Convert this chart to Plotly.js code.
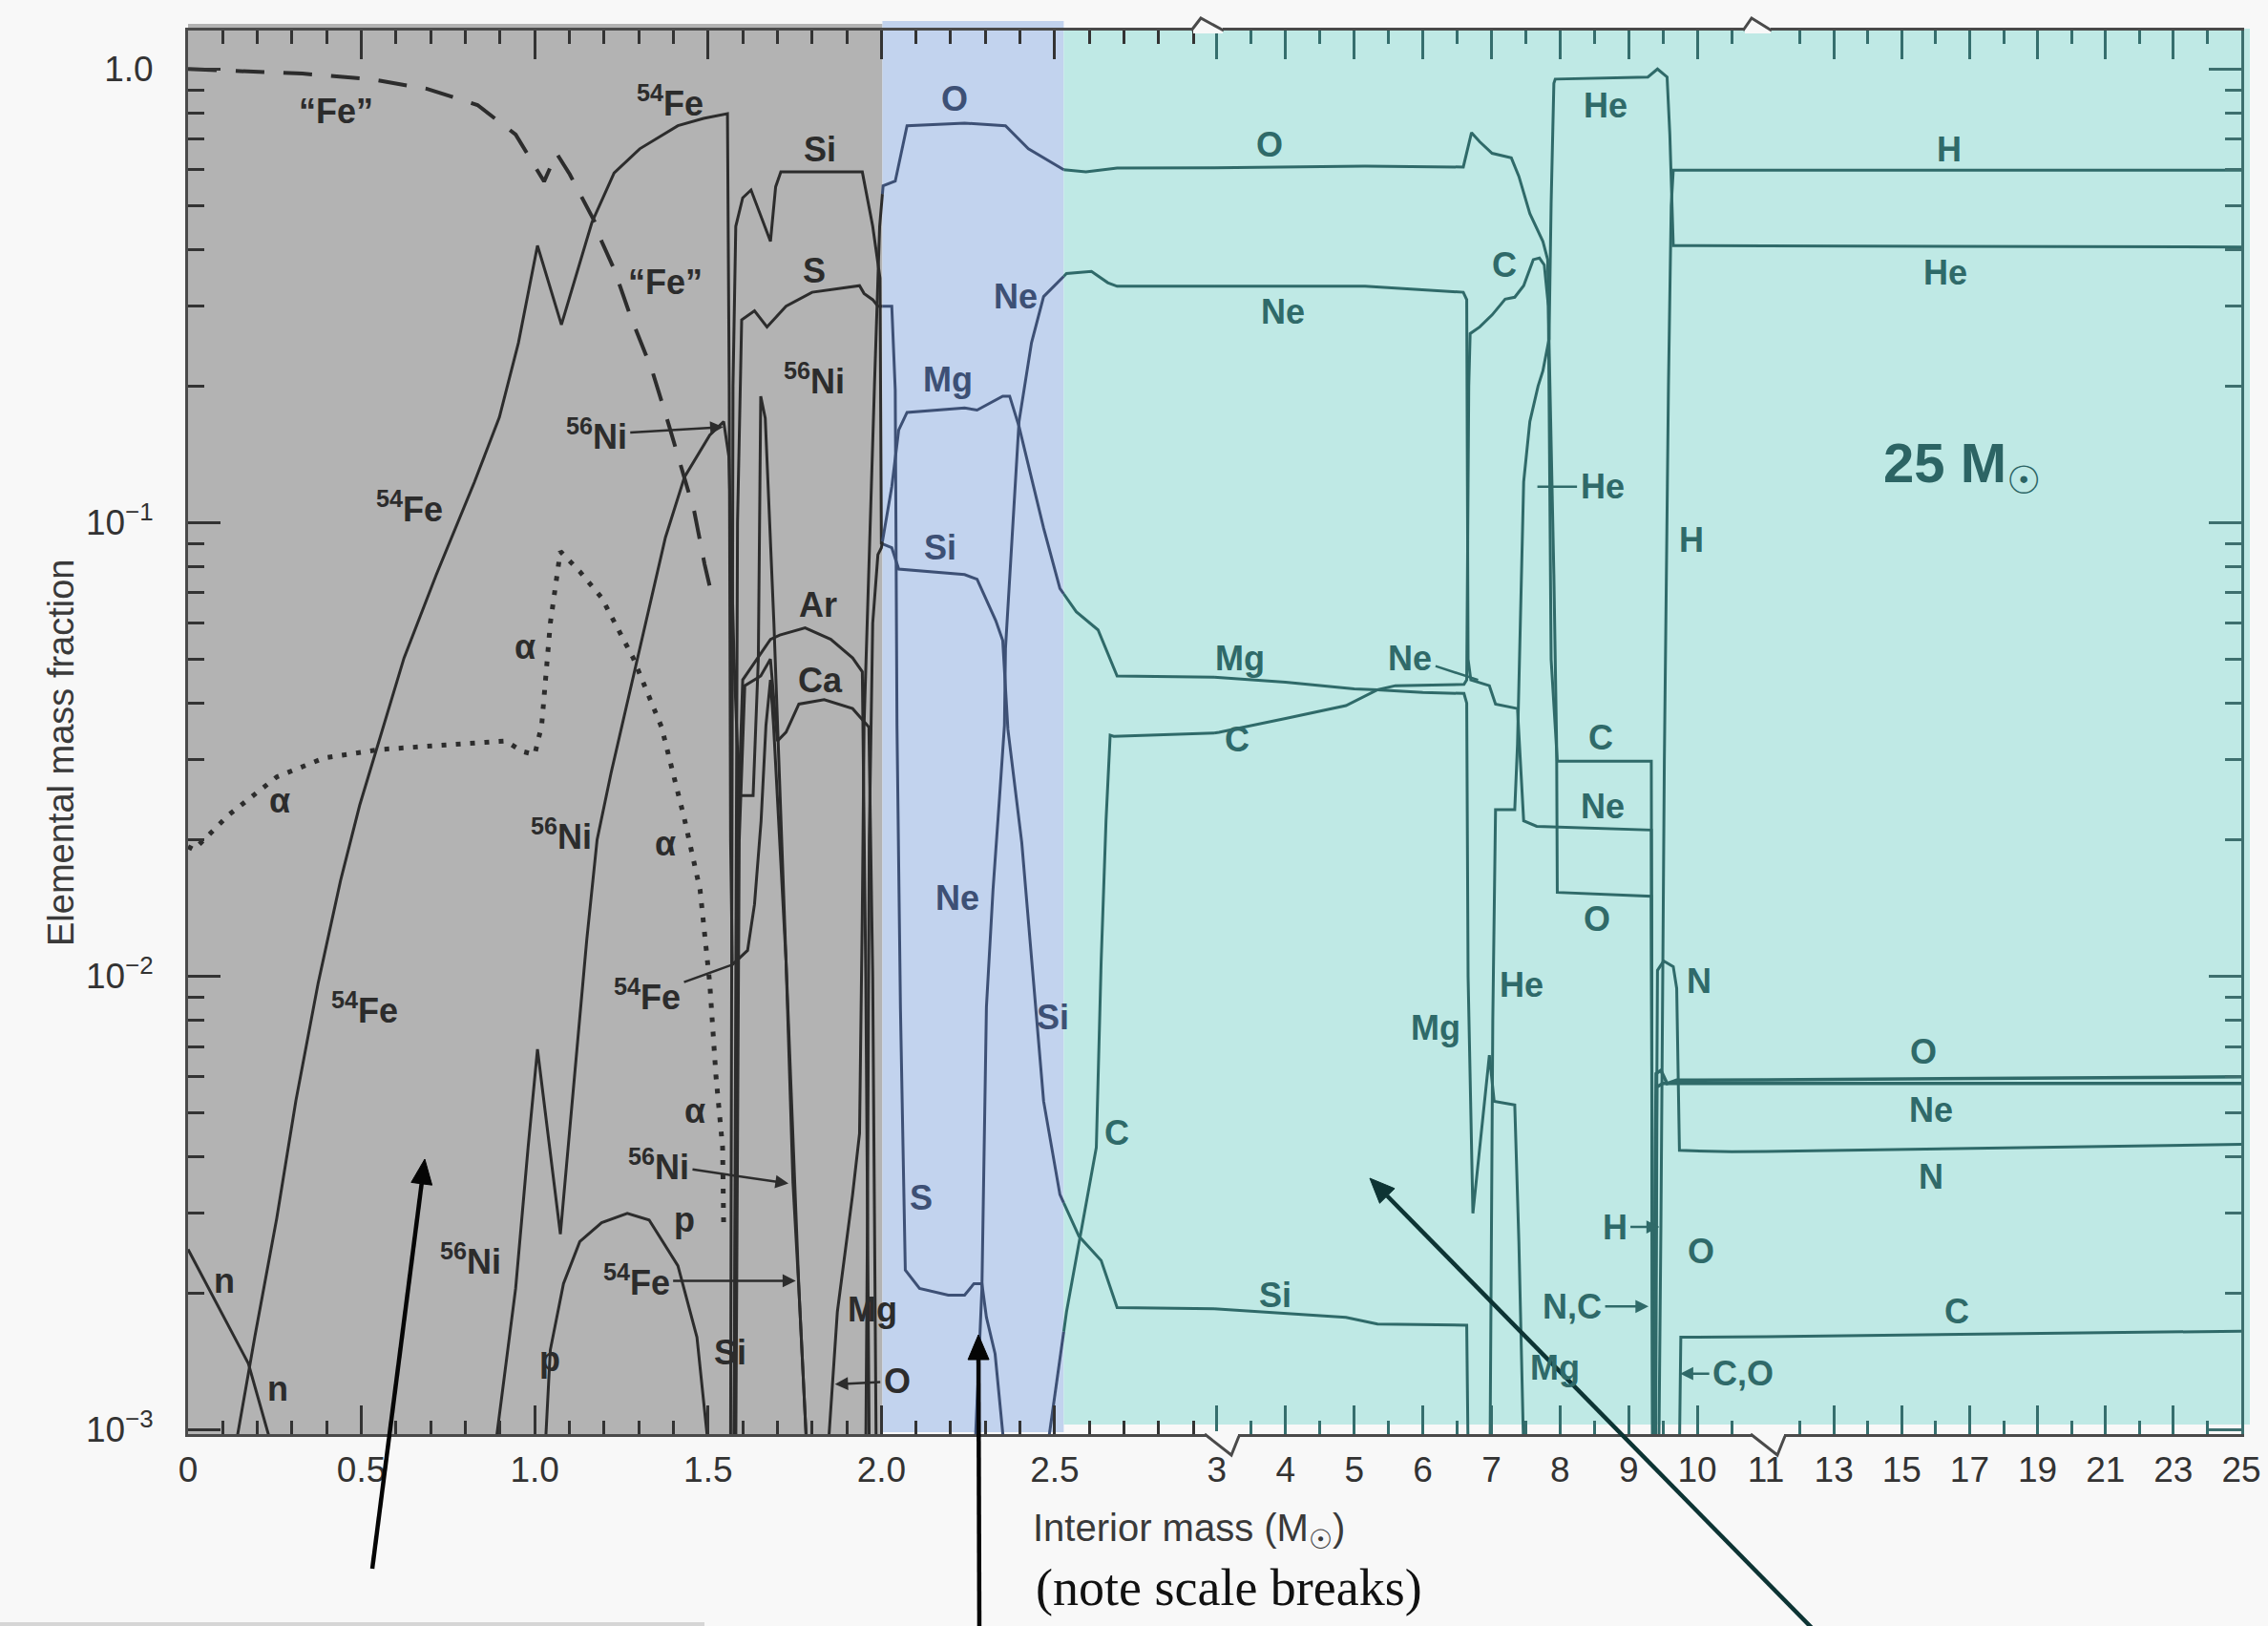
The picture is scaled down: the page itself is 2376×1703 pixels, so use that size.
<!DOCTYPE html>
<html>
<head>
<meta charset="utf-8">
<script src="https://cdn.plot.ly/plotly-3.0.1.min.js"></script>
<style>
  html, body { margin: 0; padding: 0; background: #f8f8f8; }
  #chart { width: 2376px; height: 1703px; }
</style>
</head>
<body>
<div id="chart"></div>
<script>
// Presupernova composition of a 25 Msun star: interior mass (Msun) vs. elemental mass fraction.

// ---- "Fe" (iron group total), dashed ----
const feGroupM = [0, 0.33, 0.53, 0.69, 0.835, 0.945, 1.027, 1.063, 1.101, 1.138, 1.174, 1.193, 1.229, 1.275, 1.339, 1.385, 1.42, 1.46, 1.49, 1.515];
const feGroupY = [1.0, 0.977, 0.949, 0.904, 0.833, 0.717, 0.565, 0.652, 0.586, 0.515, 0.459, 0.417, 0.362, 0.287, 0.216, 0.166, 0.135, 0.106, 0.081, 0.067];

// ---- 54Fe ----
const fe54M = [0.135, 0.193, 0.256, 0.311, 0.375, 0.44, 0.495, 0.551, 0.623, 0.716, 0.826, 0.898, 0.953, 1.008, 1.077, 1.165, 1.229, 1.303, 1.413, 1.487, 1.556, 1.561, 1.565, 1.57, 1.614, 1.634, 1.653, 1.667, 1.68, 1.689, 1.725, 1.762, 1.785];
const fe54Y = [0.0009, 0.00161, 0.00293, 0.00531, 0.00963, 0.01626, 0.0238, 0.0332, 0.0503, 0.0767, 0.1228, 0.1706, 0.249, 0.408, 0.273, 0.459, 0.59, 0.667, 0.75, 0.778, 0.797, 0.2, 0.02, 0.0106, 0.0114, 0.0144, 0.022, 0.0357, 0.045, 0.0357, 0.0108, 0.00205, 0.0009];

// ---- 56Ni ----
const ni56M = [0.885, 0.945, 0.981, 1.008, 1.074, 1.12, 1.15, 1.18, 1.22, 1.26, 1.322, 1.377, 1.432, 1.505, 1.545, 1.56, 1.575, 1.59, 1.63, 1.645, 1.652, 1.665, 1.69, 1.725, 1.745, 1.762, 1.785];
const ni56Y = [0.0009, 0.00205, 0.0042, 0.0069, 0.0027, 0.0067, 0.012, 0.02, 0.028, 0.038, 0.0608, 0.0927, 0.126, 0.156, 0.167, 0.14, 0.05, 0.025, 0.025, 0.05, 0.19, 0.17, 0.06, 0.0108, 0.0035, 0.00205, 0.0009];

// ---- alpha particles, dotted ----
const alphaM = [0, 0.017, 0.118, 0.256, 0.394, 0.551, 0.761, 0.917, 0.964, 1.0, 1.02, 1.045, 1.074, 1.13, 1.193, 1.284, 1.366, 1.432, 1.477, 1.505, 1.523, 1.542, 1.545];
const alphaY = [0.0193, 0.019, 0.0227, 0.0275, 0.0303, 0.0316, 0.0324, 0.033, 0.0313, 0.0308, 0.0357, 0.06, 0.0864, 0.078, 0.0683, 0.0503, 0.0354, 0.0222, 0.0155, 0.00963, 0.006, 0.00419, 0.00282];

// ---- free neutrons and protons ----
const neutronM = [0, 0.174, 0.245];
const neutronY = [0.0025, 0.0014, 0.0009];
const protonM = [1.03, 1.045, 1.083, 1.13, 1.193, 1.267, 1.33, 1.413, 1.468, 1.502];
const protonY = [0.0009, 0.0015, 0.0021, 0.0026, 0.00286, 0.0030, 0.0029, 0.0023, 0.0016, 0.0009];

// ---- Si, S, Ar, Ca ----
const siM = [1.565, 1.568, 1.572, 1.58, 1.6, 1.624, 1.65, 1.68, 1.695, 1.71, 1.945, 1.975, 1.996, 2.0, 2.03, 2.05, 2.24, 2.276, 2.33, 2.35, 2.365, 2.405, 2.468, 2.515, 2.57, 2.634, 2.68, 4.88, 5.34, 6.64, 6.66];
const siY = [0.0009, 0.01, 0.2, 0.45, 0.52, 0.541, 0.48, 0.417, 0.55, 0.593, 0.593, 0.45, 0.346, 0.09, 0.088, 0.079, 0.0768, 0.075, 0.0608, 0.055, 0.035, 0.0197, 0.0053, 0.0033, 0.00267, 0.00236, 0.00186, 0.00177, 0.00171, 0.0017, 0.0009];
const sM = [1.575, 1.585, 1.597, 1.634, 1.67, 1.725, 1.8, 1.937, 1.95, 1.975, 1.99, 2.0, 2.03, 2.04, 2.045, 2.055, 2.069, 2.11, 2.193, 2.24, 2.267, 2.29, 2.303, 2.328, 2.355];
const sY = [0.0009, 0.1, 0.28, 0.293, 0.27, 0.3, 0.322, 0.333, 0.32, 0.31, 0.3, 0.3, 0.3, 0.196, 0.0357, 0.0085, 0.00225, 0.00205, 0.00198, 0.00198, 0.0021, 0.0021, 0.00177, 0.00147, 0.0009];
const arM = [1.575, 1.585, 1.6, 1.64, 1.68, 1.707, 1.78, 1.854, 1.917, 1.945, 1.955, 1.965];
const arY = [0.0009, 0.02, 0.045, 0.05, 0.0553, 0.0565, 0.0586, 0.0553, 0.0503, 0.0469, 0.01, 0.0009];
const caM = [1.58, 1.59, 1.606, 1.652, 1.68, 1.70, 1.725, 1.762, 1.835, 1.917, 1.964, 1.975, 1.985];
const caY = [0.0009, 0.02, 0.0437, 0.0459, 0.05, 0.033, 0.0345, 0.0398, 0.0407, 0.0389, 0.0354, 0.01, 0.0009];

// ---- O, Mg, Ne, C ----
const oM = [1.846, 1.873, 1.917, 1.937, 1.945, 1.95, 1.98, 1.995, 2.005, 2.04, 2.074, 2.24, 2.358, 2.424, 2.523, 2.59, 2.68, 5.157, 6.59, 6.71, 6.83, 7.01, 7.29, 7.40, 7.56, 7.75, 7.82, 7.84, 7.91, 7.95, 7.96, 9.33, 9.35];
const oY = [0.0009, 0.00182, 0.0033, 0.0045, 0.0138, 0.0357, 0.2, 0.45, 0.553, 0.566, 0.75, 0.76, 0.75, 0.667, 0.60, 0.593, 0.605, 0.611, 0.608, 0.724, 0.691, 0.652, 0.637, 0.58, 0.48, 0.417, 0.38, 0.249, 0.0768, 0.0324, 0.0153, 0.015, 0.0009];
const oEnvM = [9.36, 9.38, 9.40, 9.47, 9.56, 9.7, 25];
const oEnvY = [0.0009, 0.003, 0.0061, 0.0062, 0.0058, 0.0059, 0.0060];

const mgM = [1.955, 1.96, 1.965, 1.975, 1.99, 2.0, 2.03, 2.05, 2.074, 2.24, 2.276, 2.35, 2.37, 2.397, 2.468, 2.515, 2.562, 2.625, 2.68, 4.0, 5.0, 5.34, 6.0, 6.6, 6.64, 6.66, 6.73, 6.97, 7.04, 7.34, 7.40, 7.47];
const mgY = [0.0009, 0.003, 0.02, 0.06, 0.085, 0.088, 0.12, 0.16, 0.175, 0.179, 0.177, 0.19, 0.19, 0.163, 0.0972, 0.0716, 0.0636, 0.058, 0.0459, 0.0445, 0.043, 0.0428, 0.0422, 0.042, 0.04, 0.01, 0.003, 0.0067, 0.0053, 0.0052, 0.0026, 0.0009];

const neM = [2.27, 2.29, 2.303, 2.322, 2.341, 2.355, 2.358, 2.397, 2.433, 2.468, 2.534, 2.606, 2.653, 2.68, 5.157, 6.59, 6.64, 6.66, 6.7, 6.97, 7.06, 7.38, 7.47, 7.66, 9.33, 9.35];
const neY = [0.0009, 0.00205, 0.00855, 0.0155, 0.0249, 0.0357, 0.0528, 0.167, 0.249, 0.315, 0.354, 0.358, 0.338, 0.332, 0.332, 0.322, 0.31, 0.05, 0.045, 0.0437, 0.0398, 0.0389, 0.022, 0.0214, 0.021, 0.0009];
const neEnvM = [9.39, 9.41, 9.5, 25];
const neEnvY = [0.0009, 0.0057, 0.0058, 0.0058];

const cM = [2.478, 2.534, 2.62, 2.634, 2.648, 2.66, 2.67, 3.03, 4.0, 4.88, 5.34, 5.6, 6.6, 6.64, 6.67, 6.69, 6.83, 7.01, 7.2, 7.34, 7.47, 7.61, 7.70, 7.77, 7.83, 7.87, 7.96, 9.33, 9.35];
const cY = [0.0009, 0.00182, 0.00419, 0.0108, 0.022, 0.034, 0.0338, 0.0345, 0.037, 0.0395, 0.0428, 0.0437, 0.044, 0.045, 0.2, 0.261, 0.27, 0.287, 0.311, 0.314, 0.333, 0.38, 0.383, 0.37, 0.3, 0.05, 0.0298, 0.0298, 0.0009];
const cEnvM = [9.74, 9.76, 25];
const cEnvY = [0.0009, 0.0016, 0.00165];

// ---- He, H, N ----
const heM = [6.98, 7.02, 7.06, 7.34, 7.38, 7.47, 7.56, 7.68, 7.75, 7.84, 7.87, 7.91, 7.93, 9.28, 9.42, 9.56, 9.60, 9.65, 25];
const heY = [0.0009, 0.008, 0.0233, 0.0233, 0.0324, 0.123, 0.167, 0.2, 0.216, 0.254, 0.503, 0.93, 0.95, 0.96, 1.0, 0.96, 0.717, 0.408, 0.405];
const hM = [9.44, 9.47, 9.52, 9.58, 9.62, 9.65, 25];
const hY = [0.0009, 0.0028, 0.03, 0.2, 0.5, 0.598, 0.598];
const nM = [9.38, 9.40, 9.42, 9.51, 9.65, 9.70, 9.74, 10.5, 25];
const nY = [0.0009, 0.003, 0.0103, 0.0108, 0.0105, 0.0094, 0.00413, 0.0041, 0.00426];

// ---- axis ticks ----
const seg1Ticks = [0, 0.5, 1.0, 1.5, 2.0, 2.5];
const seg1Text = ['0', '0.5', '1.0', '1.5', '2.0', '2.5'];
const seg2Ticks = [3, 4, 5, 6, 7, 8, 9, 10];
const seg2Text = ['3', '4', '5', '6', '7', '8', '9', '10'];
const seg3Ticks = [11, 13, 15, 17, 19, 21, 23, 25];
const seg3Text = ['11', '13', '15', '17', '19', '21', '23', '25'];
const yTicks = [0.001, 0.01, 0.1, 1];
const yText = ['10<sup>\u22123</sup>', '10<sup>\u22122</sup>', '10<sup>\u22121</sup>', '1.0'];

// ---------------------------------------------------------------------
const INK = { gray: '#2c2c2c', blue: '#3d5075', teal: '#2f6a69' };
const FILL = { gray: '#b3b3b3', blue: '#c2d3ee', teal: '#bfe9e5' };
const AXIS = '#4a4a4a';

// Broken mass axis: [0, 2.96] | [2.96, 11] | [11, 25]
const BREAK1 = 2.96, BREAK2 = 11, MMAX = 25;
const D1 = 0.49977, D2 = 0.76848;
const YR = [-3.0095, 0.0848];
const EDGE_BLUE = 2.003, EDGE_TEAL = 2.526;

const REGIONS = [
  { lo: 0, hi: EDGE_BLUE, axis: 'x', ink: INK.gray },
  { lo: EDGE_BLUE, hi: EDGE_TEAL, axis: 'x', ink: INK.blue },
  { lo: EDGE_TEAL, hi: BREAK1, axis: 'x', ink: INK.teal },
  { lo: BREAK1, hi: BREAK2, axis: 'x2', ink: INK.teal },
  { lo: BREAK2, hi: 26, axis: 'x3', ink: INK.teal }
];
const EDGES = [EDGE_BLUE, EDGE_TEAL, BREAK1, BREAK2];

function paperX(m) {
  if (m <= BREAK1) return m / BREAK1 * D1;
  if (m <= BREAK2) return D1 + (m - BREAK1) / (BREAK2 - BREAK1) * (D2 - D1);
  return D2 + (m - BREAK2) / (MMAX - BREAK2) * (1 - D2);
}
function paperY(v) { return (Math.log10(v) - YR[0]) / (YR[1] - YR[0]); }
// pixel helpers for decorations outside the data (frame breaks, pointer arrows)
function pxX(X) { return (X - 197) / 2151; }
function pxY(Y) { return (1502 - Y) / 1470; }
function regionInk(m) { return m < EDGE_BLUE ? INK.gray : (m < EDGE_TEAL ? INK.blue : INK.teal); }

function withEdges(ms, vs) {
  const out = [];
  for (let i = 0; i < ms.length; i++) {
    if (i > 0) {
      const a = ms[i - 1], b = ms[i];
      const cross = EDGES.filter(e => (a < e && b > e) || (a > e && b < e));
      cross.sort((p, q) => Math.abs(p - a) - Math.abs(q - a));
      for (const e of cross) {
        const t = (e - a) / (b - a);
        const la = Math.log10(vs[i - 1]), lb = Math.log10(vs[i]);
        out.push([e, Math.pow(10, la + t * (lb - la))]);
      }
    }
    out.push([ms[i], vs[i]]);
  }
  return out;
}

function curve(ms, vs, style) {
  style = style || {};
  const pts = withEdges(ms, vs);
  const out = [];
  REGIONS.forEach(r => {
    const sel = pts.filter(p => p[0] >= r.lo - 1e-9 && p[0] <= r.hi + 1e-9);
    if (sel.length < 2) return;
    out.push({
      type: 'scatter', mode: 'lines',
      x: sel.map(p => p[0]), y: sel.map(p => p[1]),
      xaxis: r.axis, yaxis: 'y',
      line: { color: r.ink, width: style.width || 3, dash: style.dash || 'solid' },
      hoverinfo: 'skip', showlegend: false
    });
  });
  return out;
}

const traces = [].concat(
  curve(feGroupM, feGroupY, { dash: '30px,20px', width: 4 }),
  curve(fe54M, fe54Y),
  curve(ni56M, ni56Y),
  curve(alphaM, alphaY, { dash: '5px,10px', width: 5 }),
  curve(neutronM, neutronY),
  curve(protonM, protonY),
  curve(siM, siY),
  curve(sM, sY),
  curve(arM, arY),
  curve(caM, caY),
  curve(oM, oY),
  curve(oEnvM, oEnvY, { width: 3.5 }),
  curve(mgM, mgY),
  curve(neM, neY),
  curve(neEnvM, neEnvY, { width: 3.5 }),
  curve(cM, cY),
  curve(cEnvM, cEnvY),
  curve(heM, heY),
  curve(hM, hY),
  curve(nM, nY)
);
// carrier for the right-hand mirrored log axis
traces.push({ type: 'scatter', mode: 'markers', x: [MMAX], y: [1], xaxis: 'x3', yaxis: 'y2',
  marker: { opacity: 0 }, hoverinfo: 'skip', showlegend: false });

// ---- curve labels ----
const LABEL_FONT = 'Liberation Sans, Arial, DejaVu Sans, sans-serif';
const LABEL_SIZE = 36;
const plainLabels = [
  ['\u201cFe\u201d', 0.426, 0.806], ['\u201cFe\u201d', 1.377, 0.339],
  ['<sup>54</sup>Fe', 1.39, 0.849], ['<sup>54</sup>Fe', 0.639, 0.108], ['<sup>54</sup>Fe', 0.509, 0.0085],
  ['<sup>56</sup>Ni', 1.077, 0.0205], ['<sup>56</sup>Ni', 0.814, 0.00238], ['<sup>56</sup>Ni', 1.807, 0.207],
  ['Si', 1.824, 0.666], ['S', 1.807, 0.36], ['Ar', 1.816, 0.0659], ['Ca', 1.824, 0.045],
  ['Si', 1.565, 0.00148], ['Mg', 1.974, 0.00184],
  ['\u03b1', 0.263, 0.0244], ['\u03b1', 0.972, 0.0532], ['\u03b1', 1.377, 0.0196], ['\u03b1', 1.461, 0.00504],
  ['n', 0.104, 0.00213], ['n', 0.259, 0.00123], ['p', 1.043, 0.00143], ['p', 1.432, 0.0029],
  ['O', 2.212, 0.861], ['Ne', 2.387, 0.315], ['Mg', 2.191, 0.207], ['Si', 2.17, 0.0883],
  ['Ne', 2.22, 0.0149], ['S', 2.116, 0.00324], ['Si', 2.496, 0.00813],
  ['O', 3.771, 0.681], ['Ne', 3.96, 0.292], ['Mg', 3.33, 0.0502], ['C', 3.29, 0.0333],
  ['C', 2.68, 0.00451], ['Si', 3.856, 0.00198], ['Mg', 6.194, 0.0077], ['He', 7.44, 0.00955],
  ['C', 7.186, 0.37], ['He', 8.66, 0.83], ['H', 9.92, 0.0916], ['C', 8.597, 0.0335],
  ['Ne', 8.62, 0.0237], ['O', 8.534, 0.0134], ['N', 10.03, 0.00977], ['O', 10.05, 0.00247],
  ['Mg', 7.92, 0.00137], ['O', 15.64, 0.0068], ['Ne', 15.85, 0.00508], ['N', 15.85, 0.00362],
  ['C', 16.62, 0.00182], ['H', 16.4, 0.666], ['He', 16.28, 0.356]
];
// [text, tip mass, tip fraction, text offset x px, text offset y px, arrowhead]
const pointerLabels = [
  ['<sup>56</sup>Ni', 1.544, 0.1625, -133, 8, 2],
  ['<sup>56</sup>Ni', 1.732, 0.00349, -136, -20, 2],
  ['<sup>54</sup>Fe', 1.753, 0.00213, -167, 0, 2],
  ['<sup>54</sup>Fe', 1.57, 0.0106, -89, 32, 0],
  ['O', 1.866, 0.00126, 65, -3, 2],
  ['Ne', 6.806, 0.045, -71, -23, 0],
  ['He', 7.67, 0.12, 68, 0, 0],
  ['H', 9.45, 0.0028, -47, 0, 2],
  ['N,C', 9.29, 0.00187, -80, 0, 2],
  ['C,O', 9.75, 0.00133, 66, 0, 2]
];

const annotations = [];
plainLabels.forEach(([t, m, v]) => annotations.push({
  xref: 'paper', yref: 'paper', x: paperX(m), y: paperY(v), xanchor: 'center', yanchor: 'middle',
  text: t, showarrow: false,
  font: { family: LABEL_FONT, size: LABEL_SIZE, weight: 700, color: regionInk(m) }
}));
pointerLabels.forEach(([t, m, v, ax, ay, head]) => annotations.push({
  xref: 'paper', yref: 'paper', x: paperX(m), y: paperY(v), xanchor: 'center', yanchor: 'middle',
  text: t, showarrow: true, ax: ax, ay: ay, arrowhead: head, arrowsize: 1.1, arrowwidth: 2.5,
  arrowcolor: regionInk(m), standoff: 0, startstandoff: 2,
  font: { family: LABEL_FONT, size: LABEL_SIZE, weight: 700, color: regionInk(m) }
}));
// star mass
annotations.push({
  xref: 'paper', yref: 'paper', x: paperX(16.79), y: paperY(0.133), xanchor: 'center', yanchor: 'middle',
  text: '25 M<sub>\u2609</sub>', showarrow: false,
  font: { family: LABEL_FONT, size: 58, weight: 700, color: '#2c6464' }
});
// axis titles
annotations.push({
  xref: 'paper', yref: 'paper', x: pxX(1080), y: pxY(1603), xanchor: 'left', yanchor: 'middle',
  text: 'Interior mass (M<sub>\u2609</sub>)', showarrow: false,
  font: { family: 'Liberation Sans, Arial, sans-serif', size: 40, color: '#3a3a3a' }
});
annotations.push({
  xref: 'paper', yref: 'paper', x: pxX(1083), y: pxY(1663), xanchor: 'left', yanchor: 'middle',
  text: '(note scale breaks)', showarrow: false,
  font: { family: 'Liberation Serif, Times New Roman, serif', size: 54, color: '#111111' }
});
annotations.push({
  xref: 'paper', yref: 'paper', x: pxX(64), y: pxY(788), xanchor: 'center', yanchor: 'middle',
  text: 'Elemental mass fraction', textangle: -90, showarrow: false,
  font: { family: 'Liberation Sans, Arial, sans-serif', size: 38, color: '#3a3a3a' }
});

// ---- shaded zones, frame breaks and pointer arrows ----
const shapes = [
  { type: 'rect', xref: 'paper', yref: 'paper', x0: paperX(0), x1: paperX(EDGE_BLUE), y0: 0, y1: pxY(25),
    fillcolor: FILL.gray, line: { width: 0 }, layer: 'below' },
  { type: 'rect', xref: 'paper', yref: 'paper', x0: paperX(EDGE_BLUE), x1: paperX(EDGE_TEAL), y0: pxY(1500), y1: pxY(22),
    fillcolor: FILL.blue, line: { width: 0 }, layer: 'below' },
  { type: 'rect', xref: 'paper', yref: 'paper', x0: paperX(EDGE_TEAL), x1: pxX(2357), y0: pxY(1492), y1: pxY(30),
    fillcolor: FILL.teal, line: { width: 0 }, layer: 'below' },
  { type: 'rect', xref: 'paper', yref: 'paper', x0: pxX(0), x1: pxX(738), y0: pxY(1699), y1: pxY(1703),
    fillcolor: '#d6d6d6', line: { width: 0 }, layer: 'below' }
];
function breakMark(xa, ya, xb, yb, xc, yc) {
  shapes.push({ type: 'line', xref: 'paper', yref: 'paper', x0: pxX(xa + 2), y0: pxY(ya), x1: pxX(xc - 1), y1: pxY(ya),
    line: { color: '#f8f8f8', width: 6 }, layer: 'above' });
  shapes.push({ type: 'path', xref: 'paper', yref: 'paper',
    path: `M ${pxX(xa)},${pxY(ya)} L ${pxX(xb)},${pxY(yb)} L ${pxX(xc)},${pxY(yc)}`,
    line: { color: AXIS, width: 3 }, layer: 'above' });
}
breakMark(1262, 1502, 1290, 1524, 1298, 1504);
breakMark(1834, 1502, 1862, 1524, 1870, 1504);
breakMark(1248, 32, 1258, 19, 1282, 32);
breakMark(1826, 32, 1835, 19, 1856, 32);

// pointer arrow: shaft from tail to the base of a filled head at the tip (pixel positions)
function pointer(tx, ty, hx, hy, col) {
  const dx = hx - tx, dy = hy - ty, len = Math.hypot(dx, dy);
  const ux = dx / len, uy = dy / len, nx = -uy, ny = ux;
  const headLen = 26, halfW = 11;
  const bx = hx - headLen * ux, by = hy - headLen * uy;
  shapes.push({ type: 'line', xref: 'paper', yref: 'paper', x0: pxX(tx), y0: pxY(ty), x1: pxX(bx), y1: pxY(by),
    line: { color: col, width: 4.5 }, layer: 'above' });
  shapes.push({ type: 'path', xref: 'paper', yref: 'paper',
    path: `M ${pxX(hx)},${pxY(hy)} L ${pxX(bx + halfW * nx)},${pxY(by + halfW * ny)} L ${pxX(bx - halfW * nx)},${pxY(by - halfW * ny)} Z`,
    fillcolor: col, line: { color: col, width: 1 }, layer: 'above' });
}
pointer(390, 1643, 445, 1214, '#050505');
pointer(1026, 1712, 1025, 1398, '#050505');
pointer(1905, 1712, 1435, 1234, '#0d3434');

// ---- axes ----
const tickFont = { family: 'Liberation Sans, Arial, sans-serif', size: 37, color: '#333333' };
function xAxis(dom, range, tv, tt, minorTick0, minorDtick, tickCol) {
  return {
    domain: dom, range: range, anchor: 'y', type: 'linear',
    showline: true, linecolor: AXIS, linewidth: 3, mirror: 'ticks',
    ticks: 'inside', ticklen: 30, tickwidth: 3, tickcolor: tickCol,
    tickmode: 'array', tickvals: tv, ticktext: tt, tickfont: tickFont, ticklabelstandoff: 3,
    minor: { ticks: 'inside', ticklen: 14, tickwidth: 3, tickcolor: tickCol, tickmode: 'linear', tick0: minorTick0, dtick: minorDtick },
    showgrid: false, zeroline: false, fixedrange: true
  };
}
const yMinor = [];
for (let d = -3; d <= 0; d++) for (let k = 2; k <= 9; k++) yMinor.push(k * Math.pow(10, d));

const layout = {
  width: 2376, height: 1703,
  margin: { l: 197, r: 28, t: 32, b: 201, pad: 0 },
  paper_bgcolor: '#f8f8f8', plot_bgcolor: 'rgba(0,0,0,0)',
  showlegend: false,
  xaxis: xAxis([0, D1], [0, BREAK1], seg1Ticks, seg1Text, 0, 0.1, '#333333'),
  xaxis2: xAxis([D1, D2], [BREAK1, BREAK2], seg2Ticks, seg2Text, 3.5, 0.5, '#356e6d'),
  xaxis3: xAxis([D2, 1], [BREAK2, MMAX], seg3Ticks, seg3Text, 12, 2, '#356e6d'),
  yaxis: {
    type: 'log', range: YR, anchor: 'x', domain: [0, 1],
    showline: true, linecolor: AXIS, linewidth: 3,
    ticks: 'inside', ticklen: 34, tickwidth: 3, tickcolor: '#333333',
    tickmode: 'array', tickvals: yTicks, ticktext: yText, tickfont: tickFont, ticklabelstandoff: 26,
    minor: { ticks: 'inside', ticklen: 17, tickwidth: 3, tickcolor: '#333333', tickmode: 'array', tickvals: yMinor },
    showgrid: false, zeroline: false, fixedrange: true
  },
  yaxis2: {
    type: 'log', range: YR, overlaying: 'y', side: 'right', anchor: 'x3',
    showline: true, linecolor: '#3d6f6e', linewidth: 3,
    ticks: 'inside', ticklen: 34, tickwidth: 3, tickcolor: '#3d6f6e',
    tickmode: 'array', tickvals: yTicks, showticklabels: false,
    minor: { ticks: 'inside', ticklen: 17, tickwidth: 3, tickcolor: '#3d6f6e', tickmode: 'array', tickvals: yMinor },
    showgrid: false, zeroline: false, fixedrange: true
  },
  shapes: shapes,
  annotations: annotations
};

Plotly.newPlot('chart', traces, layout, { staticPlot: true, displayModeBar: false });
</script>
</body>
</html>
